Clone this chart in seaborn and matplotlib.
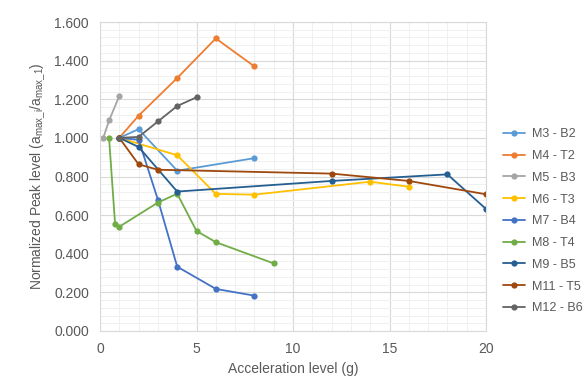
import numpy as np
import pandas as pd
import seaborn as sns
import matplotlib.pyplot as plt
from matplotlib.ticker import MultipleLocator, FormatStrFormatter

# values
m3_x = [1, 2, 4, 8]
m3_y = [1.0, 1.045, 0.83, 0.895]
m4_x = [1, 2, 4, 6, 8]
m4_y = [1.0, 1.115, 1.31, 1.515, 1.37]
m5_x = [0.17, 0.47, 1.0]
m5_y = [1.0, 1.09, 1.217]
m6_x = [1, 4, 6, 8, 14, 16]
m6_y = [1.0, 0.91, 0.71, 0.706, 0.773, 0.747]
m7_x = [1, 2, 3, 4, 6, 8]
m7_y = [1.0, 0.99, 0.68, 0.333, 0.218, 0.183]
m8_x = [0.47, 0.78, 1.0, 3, 4, 5, 6, 9]
m8_y = [1.0, 0.556, 0.54, 0.665, 0.711, 0.518, 0.46, 0.35]
m9_x = [1, 2, 4, 12, 18, 20]
m9_y = [1.0, 0.953, 0.722, 0.777, 0.811, 0.632]
m11_x = [1, 2, 3, 12, 16, 20]
m11_y = [1.0, 0.863, 0.835, 0.815, 0.777, 0.708]
m12_x = [1, 2, 3, 4, 5]
m12_y = [1.0, 1.005, 1.085, 1.165, 1.21]

labels = ['M3 - B2', 'M4 - T2', 'M5 - B3', 'M6 - T3', 'M7 - B4',
          'M8 - T4', 'M9 - B5', 'M11 - T5', 'M12 - B6']
colors = ['#5B9BD5', '#ED7D31', '#A5A5A5', '#FFC000', '#4472C4',
          '#70AD47', '#255E91', '#9E480E', '#636363']

xs = [m3_x, m4_x, m5_x, m6_x, m7_x, m8_x, m9_x, m11_x, m12_x]
ys = [m3_y, m4_y, m5_y, m6_y, m7_y, m8_y, m9_y, m11_y, m12_y]

frames = []
for lab, x, y in zip(labels, xs, ys):
    frames.append(pd.DataFrame({'x': x, 'y': y, 'series': lab}))
df = pd.concat(frames, ignore_index=True)

sns.set_style('white')
plt.rcParams['font.family'] = ['Liberation Sans', 'DejaVu Sans']
plt.rcParams['mathtext.default'] = 'regular'

fig = plt.figure(figsize=(5.87, 3.79), dpi=100)
ax = fig.add_axes([100 / 587, 48 / 379, 386 / 587, 309 / 379])

sns.lineplot(data=df, x='x', y='y', hue='series', hue_order=labels,
             palette=colors, marker='o', markersize=4.5, markeredgewidth=0,
             linewidth=1.3, sort=False, estimator=None, ax=ax)

ax.set_xlim(0, 20)
ax.set_ylim(0, 1.6)
ax.xaxis.set_major_locator(MultipleLocator(5))
ax.xaxis.set_minor_locator(MultipleLocator(1))
ax.yaxis.set_major_locator(MultipleLocator(0.2))
ax.yaxis.set_minor_locator(MultipleLocator(0.04))
ax.yaxis.set_major_formatter(FormatStrFormatter('%.3f'))
ax.grid(which='major', color='#d9d9d9', linewidth=0.8)
ax.grid(which='minor', color='#f0f0f0', linewidth=0.7)
ax.set_axisbelow(True)
for s in ax.spines.values():
    s.set_color('#d9d9d9')
    s.set_linewidth(0.8)
ax.tick_params(which='both', length=0, colors='#595959', labelsize=10, pad=8)

ax.set_xlabel('Acceleration level (g)', color='#595959', fontsize=10)
ax.set_ylabel('Normalized Peak level (a$_{max\\_i}$/a$_{max\\_1}$)',
              color='#595959', fontsize=10)

leg = ax.legend(loc='center left', bbox_to_anchor=(1.045, 0.355), frameon=False,
                fontsize=9, labelcolor='#595959', handlelength=1.7,
                handletextpad=0.6, labelspacing=0.78, borderpad=0,
                borderaxespad=0)

fig.savefig('out.png', dpi=100)
